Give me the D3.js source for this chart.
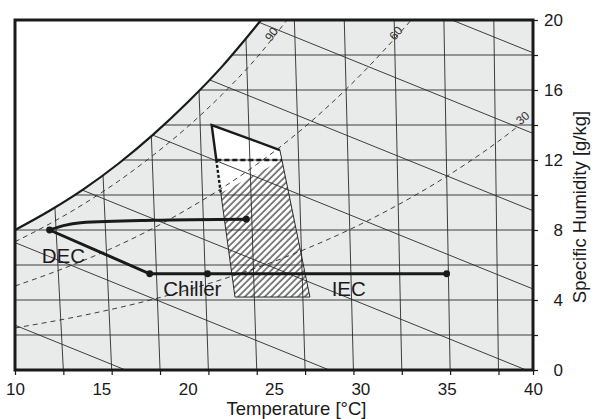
<!DOCTYPE html>
<meta charset="utf-8">
<style>
    body { margin: 0; background: #fff; }
    text { font-family: "Liberation Sans", Arial, sans-serif; fill: #1a1a1a; }
    .zone { fill: #e9eaea; }
    .grid { fill: none; stroke: #2a2a2a; stroke-width: 0.9; }
    .rh { fill: none; stroke: #2a2a2a; stroke-width: 0.9; stroke-dasharray: 5,4; }
    .saturation { fill: none; stroke: #1a1a1a; stroke-width: 2.2; }
    .process { fill: none; stroke: #1a1a1a; stroke-width: 3; }
    .outline { fill: none; stroke: #1a1a1a; stroke-width: 2.4; }
    .edge { fill: none; stroke: #2a2a2a; stroke-width: 1; }
    .frame { fill: none; stroke: #1a1a1a; stroke-width: 3; }
    .axis path { display: none; }
    .axis line { stroke: #1a1a1a; stroke-width: 1.2; }
    .axis text { font-size: 17px; font-family: "Liberation Sans", Arial, sans-serif; fill: #1a1a1a; }
    .title { font-size: 18.5px; }
    .note { font-size: 20.5px; }
    .rhlabel { font-size: 12px; fill: #333; }
</style>
<body>
<script src="https://cdn.jsdelivr.net/npm/d3@7"></script>
<script>

    // saturation line and relative humidity lines, [temperature, g/kg]
    var satCurve = [[10, 8.0], [12, 9.1], [14, 10.35], [16, 11.8], [18, 13.45], [20, 15.3], [22, 17.35], [23, 18.5], [24.25, 20]];
    var rh90 = [[10, 7.33], [12, 8.35], [14, 9.5], [16, 10.8], [18, 12.27], [20, 13.9], [22, 15.75], [24, 17.85], [25.75, 20]];
    var rh60 = [[10, 4.8], [12, 5.5], [14, 6.27], [16, 7.13], [18, 8.1], [20, 9.2], [22, 10.4], [24, 11.75], [26, 13.25], [28, 14.95], [30, 16.85], [32, 18.95], [32.95, 20]];
    var rh30 = [[10, 2.4], [14, 3.13], [18, 4.04], [22, 5.18], [26, 6.58], [30, 8.32], [32, 9.34], [34, 10.46], [36, 11.7], [38, 13.07], [39.1, 13.9]];

    // dry bulb lines: temperature at 0 g/kg and at 20 g/kg
    var isoBottom = [12.8, 15.6, 18.4, 21.2, 24.0, 26.8, 29.6, 32.4, 35.2, 38.0];
    var isoTop = [11.75, 14.7, 17.65, 20.52, 23.34, 26.18, 29.07, 31.96, 34.84, 37.73];

    // enthalpy lines: temperature at 0 g/kg and at 20 g/kg
    var enthBottom = [16.4, 28.2, 39.6, 51.6, 62.8, 73.8, 85.5];
    var enthTop = [-33.6, -21.8, -10.4, 1.5, 12.7, 23.8, 35.3];

    var humidityGrid = [2, 4, 6, 8, 10, 12, 14, 16, 18];
    var xTickLabels = [10, 15, 20, 25, 30, 35, 40];
    var yTicks = [0, 2, 4, 6, 8, 10, 12, 14, 16, 18, 20];

    // comfort zone
    var zoneShape = [[21.39, 14.0], [25.34, 12.57], [27.08, 4.17], [22.74, 4.17]];
    var zoneHatch = [[21.92, 10.11], [22.74, 4.17], [27.08, 4.17], [25.46, 12.0]];
    var zoneSolid = [[21.66, 12.0], [21.39, 14.0], [25.34, 12.57]];
    var zoneDashed = [[21.66, 12.0], [25.46, 12.0]];
    var zoneDotted = [[21.66, 12.0], [21.92, 10.11]];

    // processes
    var decPath = [[12.0, 8.0], [12.8, 8.25], [13.8, 8.42], [18.0, 8.56], [23.4, 8.62]];
    var coolPath = [[12.0, 8.0], [17.8, 5.5], [35.0, 5.5]];
    var statePoints = [[12.0, 8.0], [23.4, 8.62], [17.8, 5.5], [21.15, 5.5], [35.0, 5.5]];

    var margin = {top: 20, right: 69, bottom: 49, left: 15},
        width = 602 - margin.left - margin.right,
        height = 419 - margin.top - margin.bottom;

    var x = d3.scaleLinear().domain([10, 40]).range([0, width]);
    var y = d3.scaleLinear().domain([0, 20]).range([height, 0]);

    var line = d3.line().x(function(d) { return x(d[0]); }).y(function(d) { return y(d[1]); });
    var curve = d3.line().x(function(d) { return x(d[0]); }).y(function(d) { return y(d[1]); })
            .curve(d3.curveMonotoneX);

    var svg = d3.select("body").append("svg")
            .attr("width", 602)
            .attr("height", 419);

    var g = svg.append("g")
            .attr("transform", "translate(" + margin.left + "," + margin.top + ")");

    var region = curve(satCurve) + "L" + x(40) + "," + y(20) + "L" + x(40) + "," + y(0) + "L" + x(10) + "," + y(0) + "Z";

    var defs = svg.append("defs");
    defs.append("clipPath").attr("id", "air").append("path").attr("d", region);
    defs.append("clipPath").attr("id", "plot").append("rect")
            .attr("width", width).attr("height", height);

    var hatch = defs.append("pattern")
            .attr("id", "hatch")
            .attr("patternUnits", "userSpaceOnUse")
            .attr("width", 4.7).attr("height", 4.7)
            .attr("patternTransform", "rotate(45)");
    hatch.append("rect").attr("width", 4.7).attr("height", 4.7).attr("fill", "#fff");
    hatch.append("line")
            .attr("x1", 1).attr("y1", -1).attr("x2", 1).attr("y2", 5.7)
            .attr("stroke", "#111").attr("stroke-width", 1.05);

    g.append("path").attr("class", "zone").attr("d", region);

    // comfort zone background
    g.append("path").attr("d", line(zoneShape) + "Z").attr("fill", "#fff");
    g.append("path").attr("d", line(zoneHatch) + "Z").attr("fill", "url(#hatch)");

    var grid = g.append("g").attr("clip-path", "url(#air)");

    grid.selectAll(".hline").data(humidityGrid).enter().append("line")
            .attr("class", "grid")
            .attr("x1", x(10)).attr("x2", x(40))
            .attr("y1", function(d) { return y(d); })
            .attr("y2", function(d) { return y(d); });

    grid.selectAll(".iso").data(d3.zip(isoBottom, isoTop)).enter().append("line")
            .attr("class", "grid")
            .attr("x1", function(d) { return x(d[0]); }).attr("y1", y(0))
            .attr("x2", function(d) { return x(d[1]); }).attr("y2", y(20));

    grid.selectAll(".enth").data(d3.zip(enthBottom, enthTop)).enter().append("line")
            .attr("class", "grid")
            .attr("x1", function(d) { return x(d[0]); }).attr("y1", y(0))
            .attr("x2", function(d) { return x(d[1]); }).attr("y2", y(20));

    grid.selectAll(".rh").data([rh90, rh60, rh30]).enter().append("path")
            .attr("class", "rh")
            .attr("d", curve);

    g.append("path").attr("class", "saturation").attr("clip-path", "url(#plot)").attr("d", curve(satCurve));

    // zone edges
    g.append("path").attr("class", "edge").attr("d", line(zoneShape.slice(1)) + "L" + x(zoneHatch[0][0]) + "," + y(zoneHatch[0][1]));
    g.append("path").attr("class", "outline").attr("d", line(zoneSolid));
    g.append("path").attr("class", "outline").attr("stroke-dasharray", "5,3").attr("d", line(zoneDashed));
    g.append("path").attr("class", "outline").attr("stroke-dasharray", "3,2").attr("d", line(zoneDotted));

    // rh labels
    var rhNotes = [["90", 24.85, 19.2, -55], ["60", 32.05, 19.25, -50], ["30", 39.4, 14.4, -40]];
    g.selectAll(".rhlabel").data(rhNotes).enter().append("text")
            .attr("class", "rhlabel")
            .attr("text-anchor", "middle")
            .attr("dy", "0.35em")
            .attr("transform", function(d) { return "translate(" + x(d[1]) + "," + y(d[2]) + ")rotate(" + d[3] + ")"; })
            .text(function(d) { return d[0]; });

    // processes
    g.append("path").attr("class", "process").attr("d", curve(decPath));
    g.append("path").attr("class", "process").attr("d", line(coolPath));
    g.selectAll(".state").data(statePoints).enter().append("circle")
            .attr("cx", function(d) { return x(d[0]); })
            .attr("cy", function(d) { return y(d[1]); })
            .attr("r", 3.4)
            .attr("fill", "#1a1a1a");

    var notes = [["DEC", 11.55, 6.11], ["Chiller", 18.59, 4.23], ["IEC", 28.34, 4.23]];
    g.selectAll(".note").data(notes).enter().append("text")
            .attr("class", "note")
            .attr("x", function(d) { return x(d[1]); })
            .attr("y", function(d) { return y(d[2]); })
            .text(function(d) { return d[0]; });

    g.append("rect").attr("class", "frame").attr("width", width).attr("height", height);

    // axes
    g.append("g")
            .attr("class", "x axis")
            .attr("transform", "translate(0," + height + ")")
            .call(d3.axisBottom(x).tickValues([10].concat(isoBottom, [40])).tickSize(5).tickFormat(""));

    g.append("g")
            .attr("class", "x axis")
            .attr("transform", "translate(0," + height + ")")
            .call(d3.axisBottom(x).tickValues(xTickLabels).tickSize(0).tickPadding(13).tickFormat(d3.format("d")));

    var yAxis = g.append("g")
            .attr("class", "y axis")
            .attr("transform", "translate(" + width + ",0)")
            .call(d3.axisRight(y).tickValues(yTicks).tickSize(5)
                .tickFormat(function(d) { return d % 4 === 0 ? d : ""; }));
    yAxis.selectAll("text").attr("text-anchor", "end").attr("x", 30);

    g.append("text")
            .attr("class", "title")
            .attr("text-anchor", "middle")
            .attr("x", 281.5)
            .attr("y", height + 45)
            .text("Temperature [°C]");

    g.append("text")
            .attr("class", "title")
            .attr("text-anchor", "middle")
            .attr("transform", "translate(" + (width + 53) + "," + (height / 2 + 12) + ")rotate(-90)")
            .text("Specific Humidity [g/kg]");

</script>
